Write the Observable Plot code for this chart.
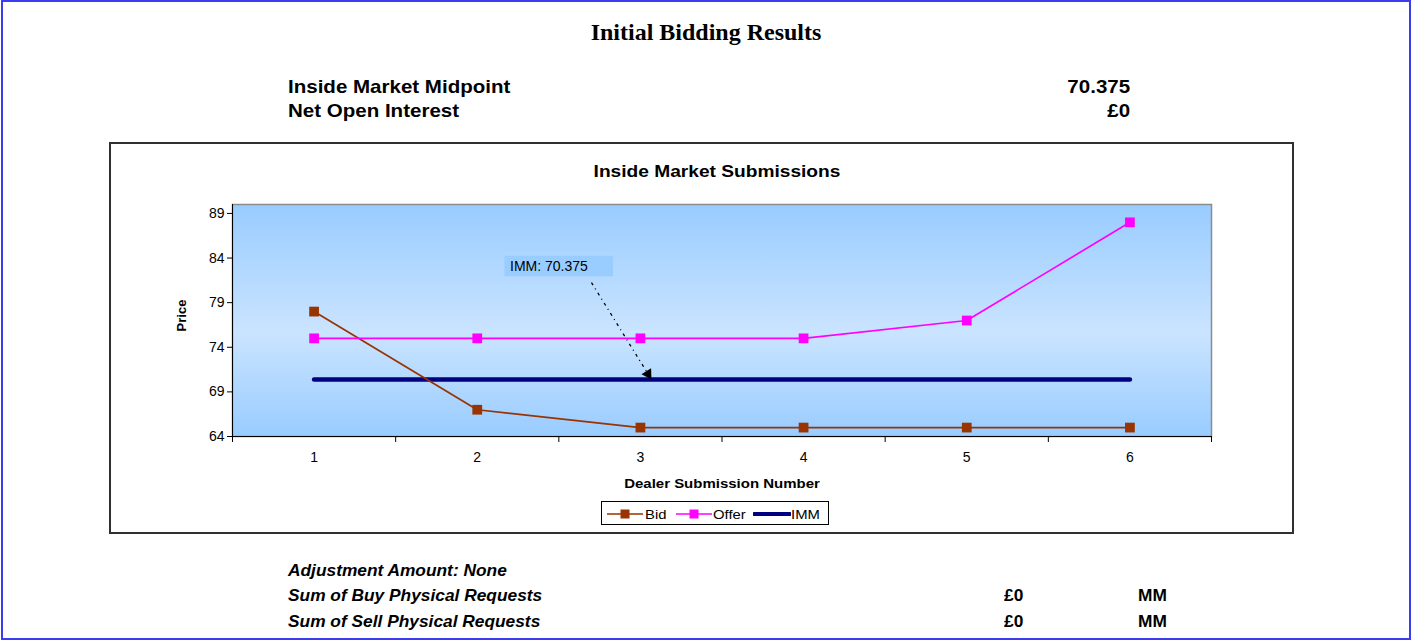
<!DOCTYPE html>
<html>
<head>
<meta charset="utf-8">
<script src="https://cdn.jsdelivr.net/npm/d3@7"></script>
<script src="https://cdn.jsdelivr.net/npm/@observablehq/plot@0.6"></script>
<style>
  html, body { margin: 0; padding: 0; background: #fff; }
  #page { position: relative; width: 1411px; height: 642px; overflow: hidden; font-family: "Liberation Sans", Arial, sans-serif; color: #000; }
  .abs { position: absolute; white-space: nowrap; line-height: 1; }
  .sl { transform-origin: left center; }
  .sr { transform-origin: right center; }
  #outer { position: absolute; left: 1px; top: 0px; width: 1406px; height: 636px; border: 2px solid #3b3bef; }
  #chartbox { position: absolute; left: 109px; top: 142px; width: 1181px; height: 388px; border: 2px solid #303030; background: #fff; }
  #plotwrap { position: absolute; left: 0; top: 0; }
  .legend { position: absolute; left: 490px; top: 357px; width: 226px; height: 22px; border: 1px solid #000; background: #fff; font-size: 13.5px; }
  .legend svg { position: absolute; top: 0; }
  .legend span { position: absolute; top: 5px; transform: scaleX(1.1); transform-origin: left center; }
  .hdr { font-weight: bold; font-size: 19px; }
  .ftr { font-weight: bold; font-size: 16.5px; }
</style>
</head>
<body>
<div id="page">
  <div id="outer"></div>
  <div class="abs" id="title" style="left:706px;top:20px;transform:translateX(-50%);font-family:'Liberation Serif','Times New Roman',serif;font-weight:bold;font-size:24px;"></div>
  <div class="abs hdr sl" style="left:288px;top:77px;transform:scaleX(1.08);">Inside Market Midpoint</div>
  <div class="abs hdr sr" id="immval" style="right:281px;top:77px;transform:scaleX(1.08);"></div>
  <div class="abs hdr sl" style="left:288px;top:101px;transform:scaleX(1.08);">Net Open Interest</div>
  <div class="abs hdr sr" id="noival" style="right:281px;top:101px;transform:scaleX(1.08);"></div>

  <div id="chartbox">
    <div id="plotwrap"></div>
    <div class="abs" style="left:605.5px;top:19px;transform:translateX(-50%) scaleX(1.16);font-weight:bold;font-size:16.5px;">Inside Market Submissions</div>
    <div class="abs" style="left:50px;top:165px;font-weight:bold;font-size:13px;transform:rotate(-90deg);transform-origin:center;width:40px;text-align:center;">Price</div>
    <div class="abs" style="left:611px;top:333px;transform:translateX(-50%) scaleX(1.11);font-weight:bold;font-size:13.5px;">Dealer Submission Number</div>
    <div class="legend" id="legend"></div>
  </div>

  <div class="abs ftr sl" style="left:288px;top:562px;font-style:italic;transform:scaleX(1.05);">Adjustment Amount: None</div>
  <div class="abs ftr sl" style="left:288px;top:587px;font-style:italic;transform:scaleX(1.05);">Sum of Buy Physical Requests</div>
  <div class="abs ftr sl" style="left:288px;top:613px;font-style:italic;transform:scaleX(1.05);">Sum of Sell Physical Requests</div>
  <div class="abs ftr sl" style="left:1004px;top:587px;transform:scaleX(1.05);">£0</div>
  <div class="abs ftr sl" style="left:1138px;top:587px;transform:scaleX(1.05);">MM</div>
  <div class="abs ftr sl" style="left:1004px;top:613px;transform:scaleX(1.05);">£0</div>
  <div class="abs ftr sl" style="left:1138px;top:613px;transform:scaleX(1.05);">MM</div>
</div>
<script>
// ---- data ----
const submissions = [1, 2, 3, 4, 5, 6];
const bidValues   = [78, 67, 65, 65, 65, 65];
const offerValues = [75, 75, 75, 75, 77, 88];
const immValue    = 70.375;
const yTicks      = [64, 69, 74, 79, 84, 89];
const yDomain     = [64, 90];
const titleText   = "Initial Bidding Results";
const immText     = "70.375";
const netOpenText = "£0";
// annotation (data coordinates): label box and arrow
const annoLabel   = {x1: 2.17, x2: 2.835, y1: 81.9, y2: 84.2, text: "IMM: 70.375"};
const annoArrow   = {x1: 2.70, y1: 81.25, x2: 3.06, y2: 70.62};

document.getElementById("title").textContent = titleText;
document.getElementById("immval").textContent = immText;
document.getElementById("noival").textContent = netOpenText;

const bid = submissions.map((s, i) => ({x: s, y: bidValues[i]}));
const offer = submissions.map((s, i) => ({x: s, y: offerValues[i]}));
const imm = submissions.map(s => ({x: s, y: immValue}));
const boundaries = d3.range(submissions.length + 1).map(i => 0.5 + i);

const BID = "#993300", OFFER = "#ff00ff", IMM = "#000080";

const chart = Plot.plot({
  width: 1181, height: 388,
  marginLeft: 121, marginRight: 81, marginTop: 60, marginBottom: 96,
  style: {background: "transparent", fontFamily: "'Liberation Sans', Arial, sans-serif", fontSize: "14px", color: "#000"},
  x: {type: "linear", domain: [0.5, submissions.length + 0.5]},
  y: {domain: yDomain},
  marks: [
    Plot.frame({fill: "url(#plotbg)", stroke: "#8c8c8c", strokeWidth: 1.5}),
    Plot.axisY({ticks: yTicks, tickSize: 5, tickPadding: 3, label: null, stroke: "#000", fontSize: 14}),
    Plot.axisX({ticks: boundaries, tickSize: 6, tickFormat: () => "", label: null, stroke: "#000"}),
    Plot.axisX({ticks: submissions, tickSize: 0, tickPadding: 16, tickFormat: d3.format("d"), label: null, fontSize: 14}),
    Plot.ruleX([0.5], {stroke: "#000", strokeWidth: 1}),
    Plot.ruleY([yDomain[0]], {stroke: "#000", strokeWidth: 1.2}),
    Plot.rect([annoLabel], {x1: "x1", x2: "x2", y1: "y1", y2: "y2", fill: "#99ccff"}),
    Plot.text([annoLabel], {x: "x1", y: d => (d.y1 + d.y2) / 2, text: "text", textAnchor: "start", dx: 5, fontSize: 14, fill: "#000"}),
    Plot.line(imm, {x: "x", y: "y", stroke: IMM, strokeWidth: 4.5, strokeLinecap: "round"}),
    Plot.line(bid, {x: "x", y: "y", stroke: BID, strokeWidth: 1.7}),
    Plot.dot(bid, {x: "x", y: "y", symbol: "square", r: 5.5, fill: BID, stroke: "none"}),
    Plot.line(offer, {x: "x", y: "y", stroke: OFFER, strokeWidth: 1.7}),
    Plot.dot(offer, {x: "x", y: "y", symbol: "square", r: 5.5, fill: OFFER, stroke: "none"}),
    Plot.link([annoArrow], {x1: "x1", y1: "y1", x2: "x2", y2: "y2", stroke: "#000", strokeWidth: 1.3, strokeDasharray: "3,4,1,4"}),
    Plot.dot([annoArrow], {x: "x2", y: "y2", symbol: "triangle", r: 4.2, rotate: 148, fill: "#000", stroke: "none", dx: -2.2, dy: -3.5})
  ]
});
const svg = d3.select(chart);
const defs = svg.insert("defs", ":first-child");
const grad = defs.append("linearGradient").attr("id", "plotbg").attr("x1", 0).attr("y1", 0).attr("x2", 0).attr("y2", 1);
grad.append("stop").attr("offset", "0%").attr("stop-color", "#99ccff");
grad.append("stop").attr("offset", "55%").attr("stop-color", "#cae4ff");
grad.append("stop").attr("offset", "100%").attr("stop-color", "#99ccff");
document.getElementById("plotwrap").appendChild(chart);

// legend
const legend = document.getElementById("legend");
const items = [
  {name: "Bid", color: BID, marker: true, lx: 4, tx: 43},
  {name: "Offer", color: OFFER, marker: true, lx: 73, tx: 111},
  {name: "IMM", color: IMM, marker: false, lx: 151, tx: 189}
];
items.forEach(it => {
  const s = d3.select(legend).append("svg").attr("width", 38).attr("height", 22).style("left", it.lx + "px");
  s.append("line").attr("x1", 1).attr("x2", 37).attr("y1", 12).attr("y2", 12)
    .attr("stroke", it.color).attr("stroke-width", it.marker ? 1.6 : 4).attr("stroke-linecap", it.marker ? "butt" : "round");
  if (it.marker) s.append("rect").attr("x", 14.5).attr("y", 7.5).attr("width", 9).attr("height", 9).attr("fill", it.color);
  d3.select(legend).append("span").style("left", it.tx + "px").text(it.name);
});
</script>
</body>
</html>
